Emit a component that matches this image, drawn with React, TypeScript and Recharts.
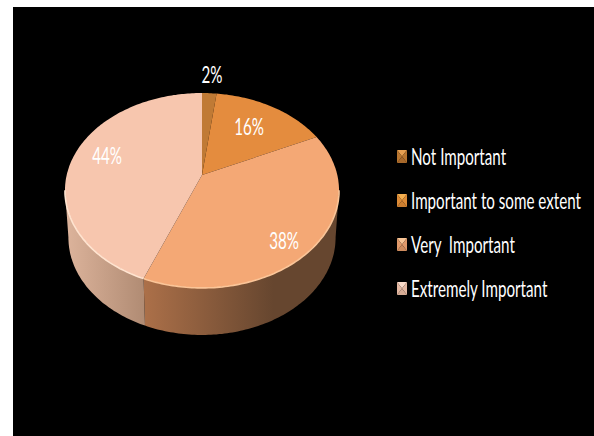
import React from "react";
import { PieChart, Pie, Legend } from "recharts";

const categories = ["Not Important", "Important to some extent", "Very  Important", "Extremely Important"];
const shares = [2, 16, 38, 44];
const topColors = ["#C07A35", "#E48C3E", "#F4A875", "#F7C6AE"];
const rimColors = ["#C07A35", "#E48C3E", "#FBC598", "#FFE4D0"];
// wall gradient stops, left to right
const wallColors = [
  ["#6A4A33", "#6A4A33"],
  ["#6A4A33", "#6A4A33"],
  ["#AC7049", "#66462F"],
  ["#DDB49C", "#B08B73"],
];
// legend chips: top, right, bottom, left facets
const legendBevels = [
  ["#E6A052", "#B8752F", "#A8692B", "#B8752F"],
  ["#F5AE4E", "#DC8A36", "#CC7E30", "#DC8A36"],
  ["#F8C596", "#E0996A", "#CF8C5E", "#E0996A"],
  ["#FADBCA", "#E4B8A2", "#D6AB94", "#E4B8A2"],
];

const data = categories.map((name, i) => ({ name, value: shares[i] }));

// perspective disc: k tilts the far edge away, squash flattens it vertically
const PERSPECTIVE = -0.159;
const SQUASH = 0.702;
const WALL_DROP = 47;
const WALL_SHRINK = 0.975;
const WALL_FROM = 99;
const WALL_TO = 261;
const TEXT_FONT = "Lato";
const TEXT_SIZE = 23;
const TEXT_NARROW = 0.66;

type Pt = [number, number];

const project = (cx: number, cy: number, r: number, deg: number, f = 1): Pt => {
  const a = (deg * Math.PI) / 180;
  const u = Math.sin(a) * f;
  const v = -Math.cos(a) * f;
  const w = 1 + PERSPECTIVE * v;
  return [cx + (r * u) / w, cy + (r * SQUASH * v) / w];
};

const arcPoints = (cx: number, cy: number, r: number, from: number, to: number): Pt[] => {
  const steps = Math.max(2, Math.ceil(to - from));
  const pts: Pt[] = [];
  for (let i = 0; i <= steps; i++) pts.push(project(cx, cy, r, from + ((to - from) * i) / steps));
  return pts;
};

const toPath = (pts: Pt[]) => pts.map((p, i) => `${i ? "L" : "M"}${p[0].toFixed(1)} ${p[1].toFixed(1)}`).join(" ");

const Slice = (props: any) => {
  const { cx, cy, outerRadius, startAngle, endAngle, index } = props;
  const from = 90 - startAngle;
  const to = 90 - endAngle;
  const rim = arcPoints(cx, cy, outerRadius, from, to);
  const wallA = Math.max(from, WALL_FROM);
  const wallB = Math.min(to, WALL_TO);
  let wall = null;
  if (wallB > wallA) {
    const upper = arcPoints(cx, cy, outerRadius, wallA, wallB);
    const lower = upper.map(([x, y]): Pt => [cx + (x - cx) * WALL_SHRINK, y + WALL_DROP]).reverse();
    const xs = upper.map((p) => p[0]).concat(lower.map((p) => p[0]));
    const id = `wall-${index}`;
    wall = (
      <g>
        <defs>
          <linearGradient id={id} gradientUnits="userSpaceOnUse" x1={Math.min(...xs)} x2={index === 2 ? Math.min(...xs) + 130 : Math.max(...xs)} y1={0} y2={0}>
            <stop offset="0" stopColor={wallColors[index][0]} />
            <stop offset="1" stopColor={wallColors[index][1]} />
          </linearGradient>
        </defs>
        <path d={`${toPath(upper)} ${toPath(lower).replace("M", "L")} Z`} fill={`url(#${id})`} />
        <path d={toPath(upper)} fill="none" stroke={rimColors[index]} strokeWidth={1.6} />
      </g>
    );
  }
  return (
    <g>
      <path d={`M${cx} ${cy} ${toPath(rim).replace("M", "L")} Z`} fill={topColors[index]} />
      {wall}
    </g>
  );
};

// label spots are picked by hand per slice, Pie's radial placement doesn't suit the tilted disc
const labelSpots: Pt[] = [
  [212, 74],
  [249, 126],
  [284, 240],
  [107, 155],
];

const SliceLabel = (props: any) => {
  const [x, y] = labelSpots[props.index];
  return (
    <text
      transform={`translate(${x} ${y}) scale(${TEXT_NARROW} 1)`}
      fill="#FFFFFF"
      fontFamily={TEXT_FONT}
      fontSize={TEXT_SIZE}
      textAnchor="middle"
      dominantBaseline="central"
    >
      {`${shares[props.index]}%`}
    </text>
  );
};

const LegendBlock = () => (
  <svg width={199} height={180} style={{ display: "block" }}>
    {categories.map((name, i) => {
      const y = 21.5 + i * 44;
      const x0 = 2;
      const w = 10;
      const h = 13;
      const t = y - h / 2;
      const b = y + h / 2;
      const r = x0 + w;
      const mx = x0 + w / 2;
      const bev = legendBevels[i];
      return (
        <g key={name}>
          <path d={`M${x0} ${t} L${r} ${t} L${mx} ${y} Z`} fill={bev[0]} />
          <path d={`M${r} ${t} L${r} ${b} L${mx} ${y} Z`} fill={bev[1]} />
          <path d={`M${x0} ${b} L${r} ${b} L${mx} ${y} Z`} fill={bev[2]} />
          <path d={`M${x0} ${t} L${x0} ${b} L${mx} ${y} Z`} fill={bev[3]} />
          <text
            transform={`translate(16 ${y}) scale(${TEXT_NARROW} 1)`}
            fill="#FFFFFF"
            fontFamily={TEXT_FONT}
            fontSize={TEXT_SIZE}
            dominantBaseline="central"
            xmlSpace="preserve"
          >
            {name}
          </text>
        </g>
      );
    })}
  </svg>
);

export default function App() {
  return (
    <div style={{ position: "fixed", left: 0, top: 0, width: 594, height: 436, background: "#FFFFFF", overflow: "hidden" }}>
      <div style={{ position: "absolute", left: 13, top: 7, right: 0, bottom: 0, background: "#000000" }} />
      <div style={{ position: "absolute", left: 0, top: 0 }}>
        <PieChart width={594} height={436} margin={{ top: 0, right: 0, bottom: 0, left: 0 }}>
          <Pie
            data={data}
            dataKey="value"
            nameKey="name"
            cx={202}
            cy={175}
            outerRadius={135.3}
            startAngle={90}
            endAngle={-270}
            shape={Slice}
            label={SliceLabel}
            labelLine={false}
            stroke="none"
            isAnimationActive={false}
          />
          <Legend content={LegendBlock} wrapperStyle={{ position: "absolute", left: 395, top: 135, width: 199, height: 180 }} />
        </PieChart>
      </div>
    </div>
  );
}
